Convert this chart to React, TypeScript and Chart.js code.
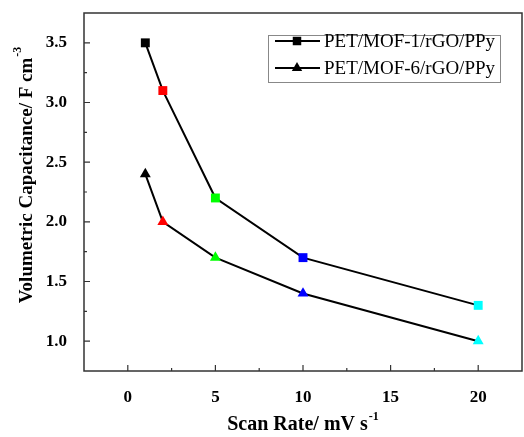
import React, { useEffect, useRef } from "react";
import { Chart, registerables } from "chart.js";

Chart.register(...registerables);

const SCAN_RATES = [1, 2, 5, 10, 20];
const MOF1_VALUES = [3.5, 3.1, 2.2, 1.7, 1.3];
const MOF6_VALUES = [2.4, 2.0, 1.7, 1.4, 1.0];
const POINT_COLORS = ["#000000", "#ff0000", "#00ff00", "#0000ff", "#00ffff"];
const SERIES_NAMES = ["PET/MOF-1/rGO/PPy", "PET/MOF-6/rGO/PPy"];
const X_TICKS = [0, 5, 10, 15, 20];
const X_MINOR = [2.5, 7.5, 12.5, 17.5];
const Y_TICKS = [1.0, 1.5, 2.0, 2.5, 3.0, 3.5];
const Y_MINOR = [1.25, 1.75, 2.25, 2.75, 3.25];
const X_TITLE = "Scan Rate/ mV s";
const X_TITLE_SUP = "-1";
const Y_TITLE = "Volumetric Capacitance/ F cm";
const Y_TITLE_SUP = "-3";

const SERIF = "'Liberation Serif', 'Times New Roman', serif";

function drawMarker(ctx: CanvasRenderingContext2D, kind: string, x: number, y: number, r: number) {
  ctx.beginPath();
  if (kind === "rect") {
    const h = r * Math.SQRT1_2;
    ctx.rect(x - h, y - h, 2 * h, 2 * h);
  } else {
    ctx.moveTo(x, y - r);
    ctx.lineTo(x + r * Math.sin(Math.PI / 3), y + r * 0.5);
    ctx.lineTo(x - r * Math.sin(Math.PI / 3), y + r * 0.5);
    ctx.closePath();
  }
  ctx.fill();
}

const decorPlugin = {
  id: "decor",
  afterDraw(chart: any) {
    const ctx: CanvasRenderingContext2D = chart.ctx;
    const { left, right, top, bottom } = chart.chartArea;
    const xs = chart.scales.x;
    const ys = chart.scales.y;
    ctx.save();
    // frame
    ctx.strokeStyle = "#333333";
    ctx.lineWidth = 1.5;
    ctx.strokeRect(left, top, right - left, bottom - top);
    // ticks (inward)
    ctx.lineWidth = 1.2;
    ctx.beginPath();
    X_TICKS.forEach((v) => {
      const px = xs.getPixelForValue(v);
      ctx.moveTo(px, bottom);
      ctx.lineTo(px, bottom - 6);
    });
    X_MINOR.forEach((v) => {
      const px = xs.getPixelForValue(v);
      ctx.moveTo(px, bottom);
      ctx.lineTo(px, bottom - 3);
    });
    Y_TICKS.forEach((v) => {
      const py = ys.getPixelForValue(v);
      ctx.moveTo(left, py);
      ctx.lineTo(left + 6, py);
    });
    Y_MINOR.forEach((v) => {
      const py = ys.getPixelForValue(v);
      ctx.moveTo(left, py);
      ctx.lineTo(left + 3, py);
    });
    ctx.stroke();

    // axis titles
    ctx.fillStyle = "#000000";
    ctx.textBaseline = "middle";
    ctx.textAlign = "left";
    // x title
    ctx.font = `bold 20px ${SERIF}`;
    const xw = ctx.measureText(X_TITLE).width;
    ctx.font = `bold 12px ${SERIF}`;
    const xsw = ctx.measureText(X_TITLE_SUP).width;
    const xcx = (left + right) / 2;
    const xStart = xcx - (xw + xsw + 1) / 2;
    ctx.font = `bold 20px ${SERIF}`;
    ctx.fillText(X_TITLE, xStart, 425);
    ctx.font = `bold 12px ${SERIF}`;
    ctx.fillText(X_TITLE_SUP, xStart + xw + 1, 417);

    // y title
    ctx.save();
    ctx.translate(27, 175);
    ctx.rotate(-Math.PI / 2);
    ctx.font = `bold 19px ${SERIF}`;
    const yw = ctx.measureText(Y_TITLE).width;
    ctx.font = `bold 12px ${SERIF}`;
    const ysw = ctx.measureText(Y_TITLE_SUP).width;
    const yStart = -(yw + ysw + 1) / 2;
    ctx.font = `bold 19px ${SERIF}`;
    ctx.fillText(Y_TITLE, yStart, 0);
    ctx.font = `bold 12px ${SERIF}`;
    ctx.fillText(Y_TITLE_SUP, yStart + yw + 1, -9);
    ctx.restore();

    // legend
    ctx.strokeStyle = "#888888";
    ctx.lineWidth = 1;
    ctx.strokeRect(268.5, 35.5, 232, 47);
    const rows = [41, 68];
    const kinds = ["rect", "triangle"];
    rows.forEach((ry, i) => {
      ctx.strokeStyle = "#000000";
      ctx.lineWidth = 2;
      ctx.beginPath();
      ctx.moveTo(275, ry);
      ctx.lineTo(320, ry);
      ctx.stroke();
      ctx.fillStyle = "#000000";
      drawMarker(ctx, kinds[i], 297, ry, 6);
      ctx.font = `19px ${SERIF}`;
      ctx.textBaseline = "middle";
      ctx.fillText(SERIES_NAMES[i], 324, ry + 1);
    });
    ctx.restore();
  },
};

export default function App() {
  const ref = useRef<HTMLCanvasElement | null>(null);
  useEffect(() => {
    if (!ref.current) return;
    const chart = new Chart(ref.current, {
      type: "line",
      data: {
        datasets: [
          {
            label: SERIES_NAMES[0],
            data: SCAN_RATES.map((x, i) => ({ x, y: MOF1_VALUES[i] })),
            borderColor: "#000000",
            borderWidth: 2,
            pointStyle: "rect",
            pointRadius: 6.3,
            pointBorderWidth: 0,
            pointBackgroundColor: POINT_COLORS,
            pointBorderColor: POINT_COLORS,
            tension: 0,
          },
          {
            label: SERIES_NAMES[1],
            data: SCAN_RATES.map((x, i) => ({ x, y: MOF6_VALUES[i] })),
            borderColor: "#000000",
            borderWidth: 2,
            pointStyle: "triangle",
            pointRadius: 6.3,
            pointBorderWidth: 0,
            pointBackgroundColor: POINT_COLORS,
            pointBorderColor: POINT_COLORS,
            tension: 0,
          },
        ],
      },
      options: {
        responsive: false,
        animation: false,
        layout: { autoPadding: false, padding: { top: 13, right: 2, left: 0, bottom: 0 } },
        plugins: {
          legend: { display: false },
          tooltip: { enabled: false },
        },
        scales: {
          x: {
            type: "linear",
            min: -2.5,
            max: 22.5,
            grid: { display: false },
            border: { display: false },
            afterBuildTicks: (s: any) => {
              s.ticks = X_TICKS.map((v) => ({ value: v }));
            },
            afterFit: (s: any) => {
              s.height = 66;
              s.paddingLeft = 0;
              s.paddingRight = 0;
            },
            ticks: {
              padding: 8,
              color: "#000000",
              font: { family: SERIF, size: 17, weight: "bold" },
              callback: (v: any) => String(v),
            },
          },
          y: {
            type: "linear",
            min: 0.75,
            max: 3.75,
            grid: { display: false },
            border: { display: false },
            afterBuildTicks: (s: any) => {
              s.ticks = Y_TICKS.map((v) => ({ value: v }));
            },
            afterFit: (s: any) => {
              s.width = 84;
              s.paddingTop = 0;
              s.paddingBottom = 0;
            },
            ticks: {
              padding: 9,
              color: "#000000",
              font: { family: SERIF, size: 17, weight: "bold" },
              callback: (v: any) => Number(v).toFixed(1),
            },
          },
        },
      },
      plugins: [decorPlugin],
    });
    return () => chart.destroy();
  }, []);
  return (
    <div style={{ position: "fixed", left: 0, top: 0, width: 524, height: 437, background: "#ffffff" }}>
      <canvas ref={ref} width={524} height={437} style={{ width: 524, height: 437 }} />
    </div>
  );
}
